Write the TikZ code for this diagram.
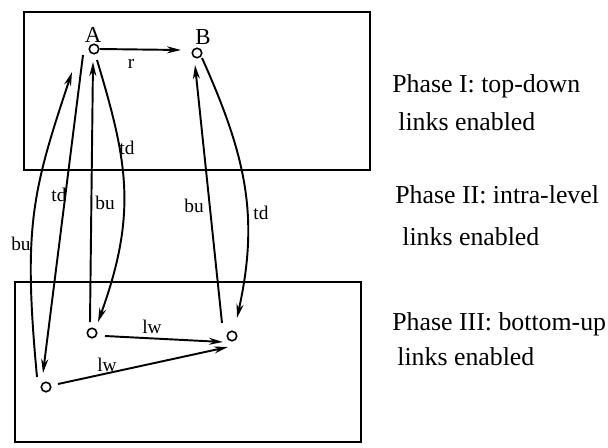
\documentclass[tikz,border=0pt]{standalone}
\usepackage{fontspec}
\setmainfont{Liberation Serif}
\usetikzlibrary{arrows.meta}

\begin{document}
\begin{tikzpicture}[x=0.02cm,y=0.02cm,
  unit/.style={circle,draw,line width=0.9pt,minimum size=5.4pt,inner sep=0pt},
  link/.style={line width=1.1pt,-{Stealth[length=8pt,width=4pt]}},
  lbl/.style={font=\fontsize{11}{13}\selectfont,inner sep=0pt},
  unitname/.style={font=\fontsize{13}{15}\selectfont,inner sep=0pt},
  phase/.style={font=\fontsize{14.7}{17}\selectfont,anchor=base west,inner sep=0pt}]
  \useasboundingbox (0,0) rectangle (608,-447);
  \draw[line width=1.2pt] (24,-12) rectangle (370,-170);
  \draw[line width=1.2pt] (15,-282) rectangle (361,-442);

  \node[unit] (A) at (94,-49) {};
  \node[unit] (B) at (197,-53) {};
  \node[unit] (C) at (92,-333) {};
  \node[unit] (D) at (232,-336) {};
  \node[unit] (E) at (46,-387) {};
  \node[unitname] (Aname) at (93,-35) {A};
  \node[unitname] (Bname) at (203,-37) {B};

  \draw[link] (A.east) -- ([shift={(-16,3)}]B.center);
  \draw[link] ([shift={(-11,-6)}]A.center) -- ([shift={(-3,14)}]E.center);
  \draw[link] ([shift={(-9,10)}]E.center) .. controls +(-14,150) and +(-40,-120) .. ([shift={(-22,-23)}]A.center);
  \draw[link] ([shift={(-2,11)}]C.center) -- ([shift={(-1,-13)}]A.center);
  \draw[link] ([shift={(3,-11)}]A.center) .. controls +(30,-100) and +(40,110) .. ([shift={(6,11)}]C.center);
  \draw[link] ([shift={(-10,13)}]D.center) -- ([shift={(-2,-12)}]B.center);
  \draw[link] ([shift={(5,-5)}]B.center) .. controls +(45,-100) and +(22,100) .. ([shift={(5,18)}]D.center);
  \draw[link] ([shift={(13,-3)}]C.center) -- ([shift={(-9,-6)}]D.center);
  \draw[link] ([shift={(12,3)}]E.center) -- ([shift={(-4,-11)}]D.center);

  \node[lbl] (rlab) at (131,-64) {r};
  \node[lbl] (tdAE) at (59,-195) {td};
  \node[lbl] (buEA) at (21,-244) {bu};
  \node[lbl] (buCA) at (105,-203) {bu};
  \node[lbl] (tdAC) at (127,-148) {td};
  \node[lbl] (buDB) at (194,-206) {bu};
  \node[lbl] (tdBD) at (261,-213) {td};
  \node[lbl] (lwCD) at (152,-327) {lw};
  \node[lbl] (lwED) at (107,-365) {lw};

  \node[phase] (ph1a) at (392,-92) {Phase I: top-down};
  \node[phase] (ph1b) at (398,-130) {links enabled};
  \node[phase] (ph2a) at (395,-203) {Phase II: intra-level};
  \node[phase] (ph2b) at (402,-245) {links enabled};
  \node[phase] (ph3a) at (392,-330) {Phase III: bottom-up};
  \node[phase] (ph3b) at (397,-365) {links enabled};
\end{tikzpicture}
\end{document}
